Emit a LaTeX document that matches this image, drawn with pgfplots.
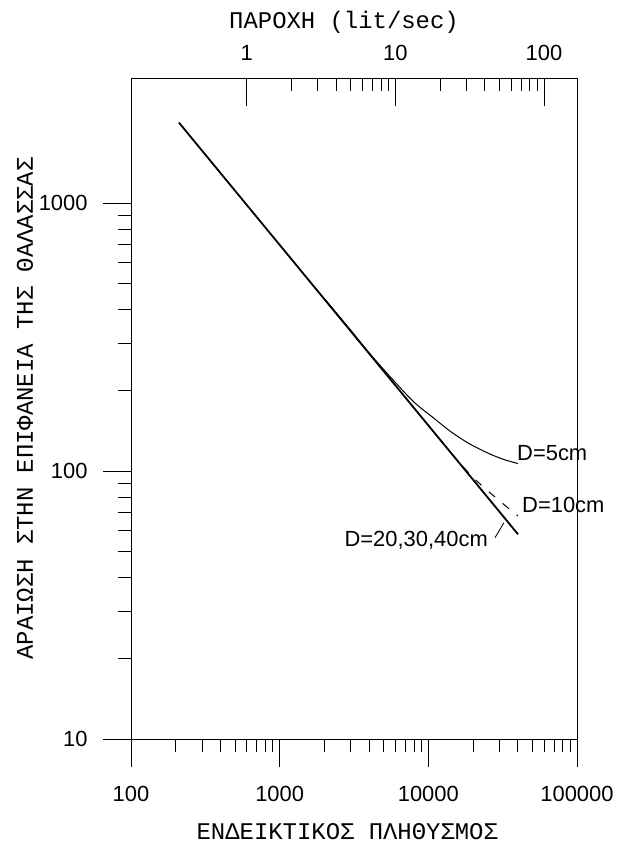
\documentclass[border=0pt]{standalone}
\usepackage{fontspec}
\setmainfont{Liberation Sans}
\newfontfamily\gmono{Liberation Mono}
\usepackage{pgfplots}
\pgfplotsset{compat=1.18}
\begin{document}
\begin{tikzpicture}
\begin{axis}[
  name=main,
  xmode=log, ymode=log,
  scale only axis, width=446bp, height=661bp,
  xmin=100, xmax=100000, ymin=10, ymax=2933,
  xtick pos=left, ytick pos=left,
  tick align=outside,
  major tick length=28bp, minor tick length=13bp,
  every tick/.style={black, line width=0.8bp},
  axis line style={line width=0.9bp},
  xtick={100,1000,10000,100000},
  xticklabels={100,1000,10000,100000},
  ytick={10,100,1000},
  yticklabels={10,100,1000},
  xticklabel style={font=\fontsize{22}{22}\selectfont, yshift=-16bp},
  yticklabel style={font=\fontsize{22}{22}\selectfont, xshift=-12bp},
  xlabel={ΕΝΔΕΙΚΤΙΚΟΣ ΠΛΗΘΥΣΜΟΣ},
  ylabel={ΑΡΑΙΩΣΗ ΣΤΗΝ ΕΠΙΦΑΝΕΙΑ ΤΗΣ ΘΑΛΑΣΣΑΣ},
  xlabel style={font=\gmono\fontsize{24}{24}\selectfont, at={(axis description cs:0.485,-0.1407)}, anchor=center},
  ylabel style={font=\gmono\fontsize{24}{24}\selectfont, at={(axis description cs:-0.2377,0.5)}, anchor=center},
  clip=false,
]
\addplot[black, line width=1.8bp] coordinates {(210,2000) (40100,58.1)};
\addplot[black, line width=1bp, smooth] coordinates {
  (2000,440) (3000,336) (4000,276) (5785,219) (8000,181) (10745,158.5)
  (14000,141) (18200,128) (22000,121) (27230,114.5) (33000,110) (40100,106.7)};
\addplot[black, line width=1bp, smooth, dash pattern=on 8bp off 10bp] coordinates {
  (10000,148) (15000,112.8) (20000,94.7) (25000,84.6) (30000,77.7) (35000,72.2) (40100,68.0)};
\node[anchor=west, inner sep=0pt, font=\fontsize{22}{22}\selectfont] at (axis cs:39500,117) {D=5cm};
\node[anchor=west, inner sep=0pt, font=\fontsize{22}{22}\selectfont] at (axis cs:42660,75) {D=10cm};
\node[anchor=east, inner sep=0pt, font=\fontsize{22}{22}\selectfont] at (axis cs:25190,55) {D=20,30,40cm};
\draw[black, line width=0.8bp] (axis cs:28070,56.4) -- (axis cs:32280,64.2);
\end{axis}
\begin{axis}[
  xmode=log,
  scale only axis, width=446bp, height=661bp,
  xmin=0.16667, xmax=166.67, ymin=0, ymax=1,
  axis x line*=top, hide y axis,
  tick align=inside,
  major tick length=28bp, minor tick length=13bp,
  every tick/.style={black, line width=0.8bp},
  axis line style={line width=0.9bp},
  xtick={1,10,100},
  xticklabels={1,10,100},
  xticklabel style={font=\fontsize{22}{22}\selectfont, yshift=14bp},
  xlabel={ΠΑΡΟΧΗ (lit/sec)},
  xlabel style={font=\gmono\fontsize{24}{24}\selectfont, at={(axis description cs:0.4776,1.0847)}, anchor=center},
]
\end{axis}
\pgfresetboundingbox
\path (main.south west) ++(-131bp,-104bp) rectangle ++(621bp,843bp);
\end{tikzpicture}
\end{document}
